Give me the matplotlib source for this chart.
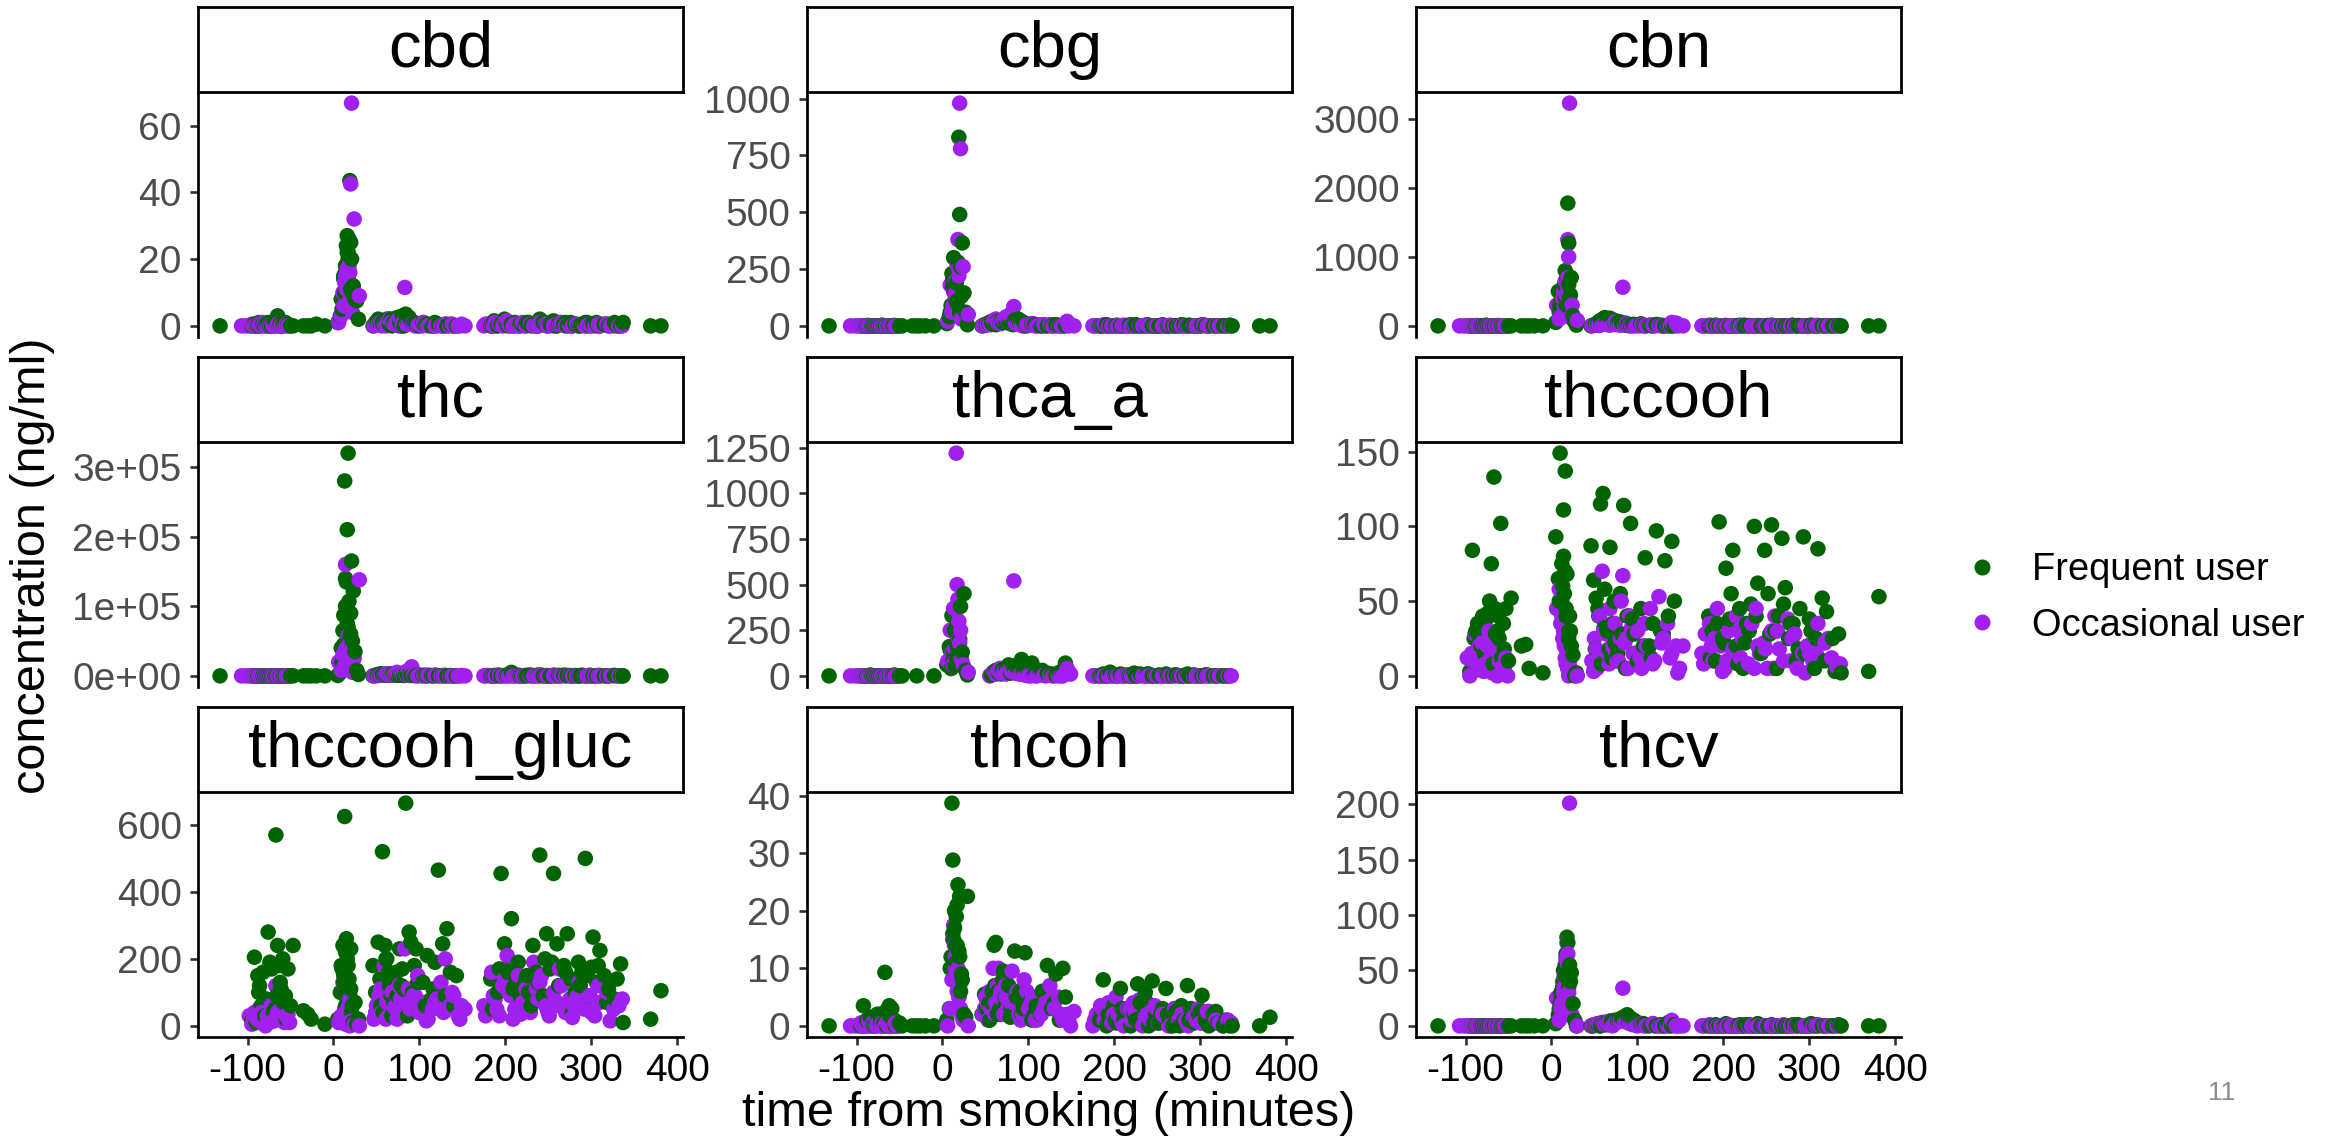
import matplotlib.pyplot as plt
import numpy as np
from matplotlib.lines import Line2D

plt.rcParams['font.family'] = ['Liberation Sans', 'DejaVu Sans']
plt.rcParams['axes.unicode_minus'] = False

nan = np.nan

# sampling times (minutes from smoking), same samples for every analyte
freq_time = [-132, -95, -92, -90, -87, -84, -80, -76, -72, -70, -67, -65, -62, -59, -56, -53, -50, -47,
             -35, -30, -26, -20, -10,
             5, 8, 10, 11, 12, 13, 14, 15, 16, 17, 18, 19, 20, 21, 23, 25, 27, 29,
             46, 49, 52, 55, 57, 60, 62, 65, 68, 71, 74, 77, 80, 84, 88, 92, 96, 100, 104, 109,
             114, 118, 122, 127, 132, 136, 140, 143,
             183, 187, 191, 195, 199, 203, 207, 211, 215, 219, 223, 227, 232, 236, 240, 244, 248, 252,
             256, 260, 264, 268, 272, 276, 281, 285, 289, 293, 298, 302, 306, 310, 315, 320, 327, 334,
             337, 369, 381,
             -88, -78, -74, -68, -61, -55,
             12, 16, 20,
             51, 58, 64, 70, 79, 86, 94, 107, 116, 130,
             185, 201, 217, 230, 246, 262, 278, 295, 308, 318, 330,
             -86, -82, -66, -63, -58,
             9, 14, 17, 22,
             54, 61, 67, 73, 82, 90, 98,
             193, 209, 225, 238, 254, 270, 287, 300]
occ_time = [-107, -102, -98, -95, -92, -89, -86, -83, -79, -75, -71, -67, -63, -59, -55, -51,
            6, 9, 11, 13, 14, 15, 16, 17, 18, 19, 20, 21, 24, 30,
            47, 50, 53, 56, 59, 62, 65, 68, 71, 74, 78, 81, 83, 87, 91, 95, 100, 105, 110, 115,
            120, 125, 130, 135, 140, 145, 149, 153,
            175, 179, 184, 188, 193, 197, 202, 206, 211, 215, 220, 224, 229, 233, 238, 242, 247, 251,
            256, 260, 265, 270, 275, 280, 286, 292, 298, 304, 310, 318, 326, 336,
            -93, -87, -81, -77, -73, -69, -65, -61, -57, -53,
            12, 15, 19, 22,
            49, 55, 61, 67, 73, 80, 89, 98, 108, 118, 128, 138, 147,
            177, 186, 199, 209, 222, 236, 249, 263, 278, 295, 308, 322, 332,
            -90, -84, -70,
            52, 64, 76, 85, 93, 103,
            190, 204, 218, 240, 258, 283, 300]

# concentrations (ng/ml)
cbd_freq = [0, 0, 0.5, 0, 1, 0.5, 0, 1, 0, 0.5, 1, 3, 0.5, 0, 1, 0.5, 0, 0,
            0, 0, 0, 0.5, 0,
            1, 3, 5, 9, 14, 10, 18, 24, 27, 20, 26, 43.5, 25, 20, 12, 8, 7.5, 2,
            0, 1, 2, 0.5, 1, 1.5, 2, 0.5, 0, 1, 2.5, 1, 3, 3.5, 2.5, 1, 0.5, 0, 1, 0.5,
            0, 1, 0.5, 0, 0, 0.5, 0, 0,
            0, 1.5, 0, 0.5, 2, 0, 0.5, 1, 0, 0.5, 0, 1, 0.5, 0, 2, 1, 0, 0.5, 1.5, 0,
            1, 0.5, 0, 1, 0.5, 0, 0.5, 1, 0, 0.5, 1, 0, 0.5, 0, 1, 0,
            1, 0, 0,
            0, 0.5, 0, 1, 0, 0.5,
            15, 22, 11,
            1, 0.5, 2, 1, 0, 1.5, 1, 0.5, 0, 0.5,
            0, 1, 0.5, 0, 1, 0.5, 0, 1, 0, 0.5, 0,
            0, 0.5, 1, 0, 0.5,
            8, 16, 22, 10,
            1, 0.5, 2, 1, 0, 1.5, 0.5,
            0.5, 0, 1, 0, 0.5, 1, 0, 0.5]
cbd_occ = [0, 0, 0, 0.5, 0, 0, 0.5, 1, 0, 0, 0.5, 0, 0, 0, 0.5, 0,
           1, 3, 10, 13, 15, 12, 17, 14, 18, 16, 42.5, 66.7, 32, 9,
           0, 0.5, 1, 0, 0.5, 1, 2, 1, 0.5, 1.5, 2, 1, 11.5, 1, 0.5, 0, 0.5, 1, 0, 0.5,
           0, 0, 0.5, 0, 0, 0, 0.5, 0,
           0, 0.5, 0, 1, 0.5, 0, 1.5, 0, 0.5, 0, 1, 0, 0.5, 0, 0, 1, 0.5, 0, 0, 0.5,
           1, 0, 0, 0.5, 0, 0, 0.5, 0, 0, 0.5, 0, 0,
           0, 0, 0.5, 0, 0, 0, 0.5, 0, 0, 0,
           6, 11, 8, 4,
           0.5, 1, 0, 1, 0.5, 0, 1, 0, 0.5, 0, 0, 0.5, 0,
           0.5, 0, 1, 0, 0.5, 0, 0, 0.5, 0, 0, 0.5, 0, 0,
           0, 0, 0,
           0.5, 1, 0, 0.5, 1, 0,
           0, 0.5, 0, 1, 0, 0.5, 0]

cbg_freq = [0, 0, 0, 0, 2, 0, 0, 0, 0, 3, 0, 0, 0, 0, 2, 0, 0, 0,
            0, 0, 0, 0, 0,
            10, 40, 90, 230, 210, 300, 150, 120, 190, 110, 280, 830, 490, 260, 365, 145, 60, 5,
            0, 5, 10, 15, 20, 10, 5, 15, 20, 25, 15, 20, 10, 25, 30, 20, 10, 5, 10, 5,
            0, 5, 0, 0, 5, 0, 5, 0,
            0, 0, 5, 0, 0, 3, 0, 0, 0, 5, 0, 0, 0, 0, 3, 0, 0, 0, 5, 0,
            0, 0, 0, 0, 3, 0, 0, 0, 0, 5, 0, 0, 0, 0, 0, 3,
            0, 0, 0,
            0, 0, 0, 0, 0, 0,
            170, 240, 60,
            5, 10, 20, 15, 10, 25, 15, 5, 0, 5,
            0, 0, 3, 0, 0, 0, 5, 0, 0, 0, 0,
            0, 0, 0, 0, 0,
            60, 170, 100, 130,
            10, 20, 15, 25, 5, 10, 0,
            0, 0, 5, 0, 0, 0, 3, 0]
cbg_occ = [0, 0, 0, 0, 0, 0, 0, 0, 0, 0, 0, 0, 0, 0, 0, 0,
           20, 180, 60, 150, 100, 200, 120, 270, 380, 250, 980, 780, 260, 50,
           0, 5, 10, 5, 20, 30, 15, 10, 25, 40, 30, 60, 85, 15, 5, 0, 5, 10, 0, 5,
           0, 5, 0, 0, 0, 20, 5, 0,
           0, 0, 0, 5, 0, 0, 0, 0, 3, 0, 0, 0, 0, 0, 5, 0, 0, 0, 0, 0,
           3, 0, 0, 0, 0, 0, 0, 5, 0, 0, 0, 0,
           0, 0, 0, 0, 0, 0, 0, 0, 0, 0,
           90, 140, 220, 30,
           5, 10, 15, 20, 30, 45, 10, 5, 0, 5, 0, 0, 0,
           0, 0, 0, 0, 0, 3, 0, 0, 0, 0, 0, 0, 0,
           0, 0, 0,
           5, 15, 20, 10, 0, 5,
           0, 0, 0, 0, 0, 0, 0]

cbn_freq = [0, 0, 0, 0, 5, 0, 0, 10, 0, 0, 0, 0, 5, 0, 0, 0, 0, 0,
            0, 0, 0, 0, 0,
            50, 500, 300, 350, 200, 450, 300, 600, 800, 550, 700, 1780, 1200, 400, 700, 150, 60, 10,
            0, 10, 30, 60, 80, 100, 120, 90, 110, 60, 40, 50, 30, 20, 10, 0, 20, 10, 30, 0,
            10, 0, 20, 10, 0, 5, 0, 0,
            0, 0, 10, 0, 0, 5, 0, 0, 0, 10, 0, 0, 0, 0, 5, 0, 0, 0, 10, 0,
            0, 0, 0, 0, 5, 0, 0, 0, 0, 10, 0, 0, 0, 0, 0, 5,
            0, 0, 0,
            0, 0, 0, 0, 0, 0,
            250, 420, 600,
            20, 50, 70, 90, 60, 40, 20, 10, 0, 5,
            0, 0, 0, 5, 0, 0, 0, 0, 5, 0, 0,
            0, 0, 0, 0, 0,
            200, 550, 300, 450,
            30, 70, 100, 80, 40, 20, 10,
            0, 0, 5, 0, 0, 0, 5, 0]
cbn_occ = [0, 0, 0, 0, 0, 0, 0, 0, 0, 0, 0, 0, 0, 0, 0, 0,
           300, 100, 200, 400, 500, 350, 650, 450, 600, 1250, 1000, 3230, 300, 80,
           0, 10, 20, 5, 30, 40, 20, 10, 30, 60, 40, 20, 560, 30, 10, 0, 5, 20, 0, 10,
           0, 5, 0, 0, 50, 40, 10, 0,
           0, 0, 10, 0, 0, 0, 5, 0, 0, 0, 0, 10, 0, 0, 0, 0, 0, 5, 0, 0,
           0, 0, 0, 10, 0, 0, 0, 0, 5, 0, 0, 0,
           0, 0, 0, 0, 0, 0, 0, 0, 0, 0,
           150, 280, 700, 120,
           10, 20, 30, 40, 20, 10, 5, 0, 0, 10, 0, 0, 0,
           0, 0, 0, 0, 0, 0, 0, 0, 0, 0, 0, 0, 0,
           0, 0, 0,
           10, 30, 20, 10, 5, 0,
           0, 0, 0, 0, 0, 0, 0]

thc_freq = [0, 0, 0, 0, 0, 0, 0, 0, 0, 0, 0, 0, 0, 0, 0, 0, 0, 0,
            0, 0, 0, 0, 0,
            500, 5000, 20000, 65000, 87000, 280000, 140000, 135000, 210000, 320000, 107000, 55000,
            90000, 165000, 122000, 35000, 8000, 2000,
            0, 1000, 2000, 3000, 2000, 1500, 1000, 2500, 2000, 1000, 1500, 1000, 2000, 3000, 2000,
            1000, 500, 1000, 500, 0, 500, 1000, 0, 500, 0, 500, 0, 0,
            0, 500, 1000, 0, 500, 1000, 5000, 500, 1000, 0, 500, 1000, 0, 500, 1000, 0, 500, 0,
            1000, 500, 0, 1000, 500, 0, 500, 0, 1000, 0, 500, 0, 0, 500, 0, 0, 500, 0,
            0, 0, 0,
            0, 0, 0, 0, 0, 0,
            45000, 75000, 60000,
            1000, 2000, 1500, 3000, 1000, 2000, 500, 1000, 0, 500,
            0, 500, 0, 1000, 0, 500, 0, 0, 500, 0, 0,
            0, 0, 0, 0, 0,
            40000, 100000, 70000, 50000,
            1000, 2000, 1500, 1000, 500, 1000, 500,
            0, 500, 0, 1000, 0, 500, 0, 0]
thc_occ = [0, 0, 0, 0, 0, 0, 0, 0, 0, 0, 0, 0, 0, 0, 0, 0,
           20000, 8000, 30000, 35000, 160000, 40000, 28000, 58000, 33000, 36000, 15000, 10000,
           25000, 138000,
           0, 500, 1000, 2000, 1000, 3000, 2000, 1000, 2000, 5000, 3000, 2000, 5000, 8000, 13000,
           3000, 1000, 500, 1000, 0, 500, 0, 500, 0, 0, 0, 500, 0,
           0, 500, 0, 0, 1000, 0, 0, 500, 0, 0, 0, 500, 0, 0, 0, 1000, 0, 0, 500, 0,
           0, 0, 500, 0, 0, 0, 1000, 0, 0, 0, 500, 0,
           0, 0, 0, 0, 0, 0, 0, 0, 0, 0,
           12000, 22000, 45000, 5000,
           500, 1000, 2000, 3000, 1000, 2000, 500, 0, 0, 500, 0, 0, 0,
           0, 0, 500, 0, 0, 0, 0, 500, 0, 0, 0, 0, 0,
           0, 0, 0,
           500, 1000, 2000, 1000, 500, 0,
           0, 0, 0, 0, 0, 0, 0]

thca_a_freq = [0, 0, 0, 0, 0, 5, 0, 0, 0, 0, 0, 0, 0, 0, 5, 0, 0, 0,
               nan, 0, nan, nan, 0,
               60, 160, 40, 330, 80, 120, 60, 90, 100, 70, 150, 120, 200, 380, 130, 450, 30, 5,
               nan, nan, nan, nan, 5, 10, 30, 20, 10, 30, 40, 60, 20, 45, 30, 90, 45, 20, 70, 20,
               25, 10, 15, 10, 5, 20, 10, 70,
               0, 10, 0, 20, 5, 0, 10, 0, 5, 0, 15, 0, 5, 0, 10, 0, 0, 5, 0, 10,
               0, 0, 5, 0, 0, 10, 0, 5, 0, 0, 5, 0, 0, 0, 0, 0,
               nan, nan, nan,
               0, 0, 0, 0, 0, 0,
               50, 180, 110,
               nan, 10, 20, 35, 15, 50, 25, 10, 30, 5,
               0, 5, 0, 10, 0, 5, 0, 0, 5, 0, 0,
               0, 0, 0, 0, 0,
               140, 250, 170, 90,
               nan, 25, 40, 15, 55, 30, 10,
               0, 5, 0, 10, 0, 5, 0, 0]
thca_a_occ = [0, 0, 0, 0, 0, 0, 0, 0, 0, 0, 0, 0, 0, 0, 0, 0,
              80, 250, 120, 370, 150, 90, 1220, 500, 420, 200, 180, 250, 60, 20,
              nan, nan, nan, 5, 20, 10, 30, 15, 20, 10, 30, 40, 520, 20, 10, 5, 0, 10, 0, 5,
              0, 5, 0, 0, 0, 40, 10, nan,
              0, 0, 0, 0, 0, 0, 0, 0, 0, 0, 0, 0, 0, 0, 0, 0, 0, 0, 0, 0,
              0, 0, 0, 0, 0, 0, 0, 0, 0, 0, 0, 0,
              0, 0, 0, 0, 0, 0, 0, 0, 0, 0,
              60, 150, 300, 90,
              nan, 0, 20, 40, 15, 25, 10, 5, 0, 5, 0, 0, 20,
              0, 0, 0, 0, 0, 0, 0, 0, 0, 0, 0, 0, 0,
              0, 0, 0,
              nan, 20, 35, 15, 10, 0,
              0, 0, 0, 0, 0, 0, 0]

thccooh_freq = [nan, 3, 84, 25, 5, 22, 40, 38, 50, 75, 133, 28, 40, 102, 35, 45, 10, 52,
                20, 21, 5, nan, 2,
                93, 65, 149, 35, 75, 60, 111, 55, 137, 45, 68, 5, 30, 40, 20, 14, 0, 2,
                87, 64, 52, 40, 115, 122, 58, 30, 86, 35, 22, 15, 55, 114, 40, 102, 28, 10, 45, 79,
                20, 35, 97, 30, 77, 40, 90, 50,
                40, 30, 10, 103, 25, 72, 38, 84, 20, 45, 5, 35, 48, 100, 62, 15, 84, 55, 101, 30,
                40, 92, 59, 25, 35, 10, 45, 93, 20, 30, 5, 85, 52, 43, 25, 28,
                2, 3, 53,
                30, 15, 42, 8, 25, 18,
                50, 70, 25,
                18, 8, 32, 12, 25, 5, 38, 20, 12, 28,
                12, 22, 8, 30, 18, 5, 35, 15, 25, 10, 3,
                35, 20, 45, 30, 12,
                50, 80, 40, 30,
                45, 32, 18, 50, 28, 40, 15,
                35, 55, 22, 40, 28, 48, 18, 38]
thccooh_occ = [nan, nan, 12, 0, 10, 28, 8, 15, 3, 20, 12, 25, 0, 10, 5, 0,
               45, 58, 35, 25, 30, 20, 12, 8, 15, 5, 0, 10, 3, 0,
               10, 25, 5, 40, 70, 30, 15, 45, 20, 35, 10, 50, 67, 25, 40, 15, 30, 5, 20, 45,
               10, 53, 25, 35, 15, 20, 5, 20,
               15, 28, 35, 10, 45, 20, 5, 30, 18, 40, 12, 25, 8, 35, 45, 15, 22, 5, 30, 40,
               18, 10, 38, 25, 5, 15, 20, 10, 35, 22, 12, 8,
               15, 4, 22, 8, 30, 2, 18, 10, 6, 12,
               40, 22, 10, 5,
               3, 12, 30, 8, 18, 25, 5, 15, 35, 8, 22, 12, 2,
               8, 20, 3, 12, 25, 5, 18, 30, 10, 2, 15, 25, 6,
               10, 20, 5,
               18, 28, 10, 22, 32, 12,
               25, 10, 30, 20, 5, 28, 15]

thccooh_gluc_freq = [nan, 15, 205, 10, 100, 60, 30, 280, 170, 40, 570, 240, 130, 200, 90, 170, 60, 240,
                     45, 35, 20, nan, 5,
                     20, 100, 170, 240, 130, 625, 60, 260, 200, 180, 140, 90, 230, 40, 10, 70, 5, 20,
                     180, 100, 250, 60, 520, 240, 200, 120, 30, 150, 90, 230, 170, 665, 280, 100, 230,
                     40, 130, 210, 80, 190, 465, 245, 290, 160, 60, 150,
                     140, 60, 100, 455, 245, 160, 320, 120, 190, 80, 130, 100, 240, 160, 510, 90, 275,
                     170, 455, 245, 120, 180, 275, 140, 100, 190, 160, 500, 90, 265, 130, 225, 150,
                     110, 80, 185,
                     10, 20, 105,
                     150, 80, 190, 50, 110, 20,
                     150, 80, 110,
                     100, 40, 160, 70, 120, 30, 180, 60, 110, 90,
                     50, 170, 90, 60, 200, 120, 40, 150, 180, 70, 140,
                     120, 160, 90, 180, 70,
                     180, 220, 120, 60,
                     140, 200, 90, 160, 110, 250, 130,
                     170, 110, 150, 130, 190, 160, 120, 175]
thccooh_gluc_occ = [nan, nan, 30, 5, 40, 20, 15, 35, 0, 10, 25, 120, 45, 20, 30, 10,
                    10, 30, 130, 50, 5, 20, 40, 10, 60, 0, 25, 15, 5, 0,
                    20, 60, 90, 40, 180, 70, 30, 100, 55, 20, 80, 40, 230, 110, 60, 90, 40, 70, 20, 50,
                    80, 130, 200, 60, 90, 30, 60, 50,
                    60, 40, 160, 80, 30, 120, 210, 90, 50, 150, 70, 110, 40, 190, 80, 150, 60, 30, 100, 70,
                    120, 40, 80, 60, 130, 50, 90, 30, 70, 100, 50, 80,
                    20, 50, 5, 30, 60, 15, 40, 25, 10, 35,
                    20, 45, 80, 10,
                    40, 110, 20, 60, 90, 30, 50, 150, 15, 70, 40, 100, 20,
                    30, 90, 140, 20, 60, 110, 45, 170, 25, 80, 120, 15, 60,
                    25, 40, 15,
                    70, 30, 120, 50, 90, 40,
                    50, 100, 35, 130, 60, 85, 40]

thcoh_freq = [0, 0, 3.5, 0, 0.5, 1.5, 0, 2, 0.5, 1, 9.3, 0, 3.5, 3, 1, 0, 0.5, 0,
              0, 0, 0, 0, 0,
              1, 3, 12, 38.7, 28.8, 15, 20, 14, 11, 21, 24.5, 13, 22.5, 6, 8, 2, 1.5, 22.5,
              2, 5.5, 3, 1, 4, 14, 14.5, 6, 2, 9.5, 4, 7, 3, 13, 5, 2, 12.7, 4, 1, 3.5,
              2, 6, 10.5, 3, 9, 1, 10, 5,
              1, 8, 0, 2, 3.5, 0.5, 6.5, 1, 3, 0, 2, 7.3, 1.5, 5.8, 0, 7.8, 2, 0.5, 3, 6.5,
              1, 0, 2.5, 0, 1, 7, 3, 0.5, 2, 5.3, 1, 0, 2, 0.5, 0, 0,
              0, 0, 1.5,
              1, 0, 2, 0.5, 1.5, 0,
              16, 19, 12,
              3, 6, 2, 8, 1.5, 5, 3, 2, 6, 4,
              2, 1, 3, 4, 0.5, 2, 3.5, 1, 0.5, 2.5, 1,
              0.5, 1, 2.5, 0, 1,
              10, 17, 14, 9,
              4, 7, 3, 5, 2, 6, 3,
              2, 3, 1, 4, 2, 3, 1, 2.5]
thcoh_occ = [0, 0, 0, 0.5, 0, 0, 1, 0, 0, 0.5, 0, 0, 0, 0, 0.5, 0,
             0, 3, 8, 17.5, 14, 12, 9, 6, 10, 5, 7, 3, 1, 0,
             2, 5, 1, 3, 10, 4, 10, 6, 2, 5, 3, 9.5, 4, 6, 1, 8, 3, 5, 1, 2,
             4, 7, 3, 5, 1, 2, 0, 2.5,
             0, 2, 3.5, 1, 4, 0.5, 5, 2, 0, 3, 1, 2.5, 4.5, 0, 2, 1, 3.5, 0.5, 2, 1.5,
             0, 3, 1, 2, 0, 1.5, 3, 0.5, 2.5, 1, 0, 0.5,
             0, 0, 0.5, 0, 0, 0, 0.5, 0, 0, 0,
             15, 10, 5, 2,
             3, 6, 2, 5, 7, 4, 2, 6, 1, 3, 5, 2, 1,
             1, 3, 2, 0.5, 4, 1.5, 3, 0, 2, 1, 2.5, 0.5, 1,
             0, 0, 0.5,
             4, 7, 3, 5, 2, 4,
             1, 2, 3, 1.5, 2, 1, 0.5]

thcv_freq = [0, 0, 0, 0, 0, 0, 0, 0, 0, 0, 0, 0, 0, 0, 0, 0, 0, 0,
             0, 0, 0, 0, 0,
             2, 10, 20, 30, 25, 35, 40, 45, 55, 62, 80, 75, 50, 55, 48, 20, 5, 0,
             0, 0, 1, 2, 0, 3, 2, 1, 4, 2, 3, 5, 6, 8, 10, 7, 5, 3, 2, 1,
             0, 2, 0, 1, 0, 3, 0, 1,
             0, 0, 1, 0, 0, 2, 0, 0, 0, 1, 0, 0, 0, 0, 2, 0, 0, 0, 1, 0,
             0, 0, 0, 0, 1, 0, 0, 0, 0, 2, 0, 0, 0, 0, 0, 1,
             0, 0, 0,
             0, 0, 0, 0, 0, 0,
             30, 45, 35,
             1, 2, 3, 4, 6, 8, 5, 2, 1, 0,
             0, 0, 0, 1, 0, 0, 0, 0, 1, 0, 0,
             0, 0, 0, 0, 0,
             15, 50, 65, 40,
             1, 2, 4, 5, 7, 3, 1,
             0, 0, 1, 0, 0, 0, 1, 0]
thcv_occ = [0, 0, 0, 0, 0, 0, 0, 0, 0, 0, 0, 0, 0, 0, 0, 0,
            25, 5, 15, 40, 30, 35, 20, 60, 75, 65, 30, 201, 10, 0,
            0, 1, 2, 0, 3, 1, 2, 4, 0, 3, 5, 6, 34, 4, 2, 1, 0, 2, 0, 1,
            0, 0, 0, 0, 5, 0, 0, 0,
            0, 0, 1, 0, 0, 0, 0, 1, 0, 0, 0, 0, 0, 0, 1, 0, 0, 0, 0, 0,
            0, 1, 0, 0, 0, 0, 0, 0, 1, 0, 0, 0,
            0, 0, 0, 0, 0, 0, 0, 0, 0, 0,
            20, 45, 55, 10,
            1, 2, 3, 4, 2, 5, 3, 1, 0, 2, 0, 0, 0,
            0, 0, 0, 0, 0, 0, 0, 0, 0, 0, 0, 0, 0,
            0, 0, 0,
            1, 2, 3, 4, 2, 1,
            0, 0, 0, 0, 0, 0, 0]

analytes = ['cbd', 'cbg', 'cbn', 'thc', 'thca_a', 'thccooh', 'thccooh_gluc', 'thcoh', 'thcv']
series = {
    'cbd': (cbd_freq, cbd_occ), 'cbg': (cbg_freq, cbg_occ), 'cbn': (cbn_freq, cbn_occ),
    'thc': (thc_freq, thc_occ), 'thca_a': (thca_a_freq, thca_a_occ),
    'thccooh': (thccooh_freq, thccooh_occ), 'thccooh_gluc': (thccooh_gluc_freq, thccooh_gluc_occ),
    'thcoh': (thcoh_freq, thcoh_occ), 'thcv': (thcv_freq, thcv_occ),
}
y_ticks = {
    'cbd': [0, 20, 40, 60], 'cbg': [0, 250, 500, 750, 1000], 'cbn': [0, 1000, 2000, 3000],
    'thc': [0, 1e5, 2e5, 3e5], 'thca_a': [0, 250, 500, 750, 1000, 1250],
    'thccooh': [0, 50, 100, 150], 'thccooh_gluc': [0, 200, 400, 600],
    'thcoh': [0, 10, 20, 30, 40], 'thcv': [0, 50, 100, 150, 200],
}
thc_tick_labels = ['0e+00', '1e+05', '2e+05', '3e+05']
x_ticks = [-100, 0, 100, 200, 300, 400]

green = '#006400'
purple = '#A020F0'

W, H = 2338, 1139
fig = plt.figure(figsize=(W / 100, H / 100), dpi=100)

col_left = [198, 807, 1416]
row_top = [92, 442, 792]
panel_w, panel_h, strip_h = 485, 245, 85

# both groups in one layer, drawn in time order so the colours overlap like the original
all_time = np.array(freq_time + occ_time)
all_col = np.array([green] * len(freq_time) + [purple] * len(occ_time))
order = np.argsort(all_time, kind='stable')

axes = []
for i, name in enumerate(analytes):
    r, c = divmod(i, 3)
    x0 = col_left[c] / W
    ax = fig.add_axes([x0, 1 - (row_top[r] + panel_h) / H, panel_w / W, panel_h / H],
                      sharex=axes[0] if axes else None)
    axes.append(ax)
    fv, ov = series[name]
    vals = np.array(fv + ov, dtype=float)
    ax.scatter(all_time[order], vals[order], s=125, c=all_col[order], linewidths=0, zorder=2)

    ax.set_yticks(y_ticks[name])
    if name == 'thc':
        ax.set_yticklabels(thc_tick_labels)
    for side in ['top', 'right']:
        ax.spines[side].set_visible(False)
    ax.spines['left'].set_linewidth(1.95)
    ax.spines['bottom'].set_linewidth(1.95)
    ax.tick_params(axis='y', length=5.8, width=1.9, color='#333333', labelsize=28,
                   labelcolor='#4D4D4D', pad=6)
    if r < 2:
        ax.spines['bottom'].set_visible(False)
        ax.tick_params(axis='x', bottom=False, labelbottom=False)
    else:
        ax.set_xticks(x_ticks)
        ax.tick_params(axis='x', length=5.8, width=1.9, color='#333333', labelsize=28,
                       labelcolor='black', pad=6)

    # facet strip
    sx = fig.add_axes([x0, 1 - row_top[r] / H, panel_w / W, strip_h / H])
    sx.set_xticks([])
    sx.set_yticks([])
    for sp in sx.spines.values():
        sp.set_linewidth(2)
    sx.text(0.5, 0.5, name, ha='center', va='center', fontsize=47, transform=sx.transAxes)

handles = [Line2D([], [], marker='o', linestyle='', color=green, markersize=10.5, label='Frequent user'),
           Line2D([], [], marker='o', linestyle='', color=purple, markersize=10.5, label='Occasional user')]
fig.legend(handles=handles, loc='center left', bbox_to_anchor=(1929 / W, 1 - 598 / H), frameon=False,
           fontsize=27.4, handlelength=1.0, handletextpad=0.8, labelspacing=0.5, borderpad=0.4)

fig.text(1049 / W, 1 - 1113 / H, 'time from smoking (minutes)', ha='center', va='center', fontsize=35)
fig.text(33 / W, 1 - 566 / H, 'concentration (ng/ml)', rotation=90, ha='center', va='center', fontsize=35)
fig.text(2222 / W, 1 - 1093 / H, '11', ha='center', va='center', fontsize=19, color='#8c8c8c')

fig.savefig('out.png', dpi=100)
